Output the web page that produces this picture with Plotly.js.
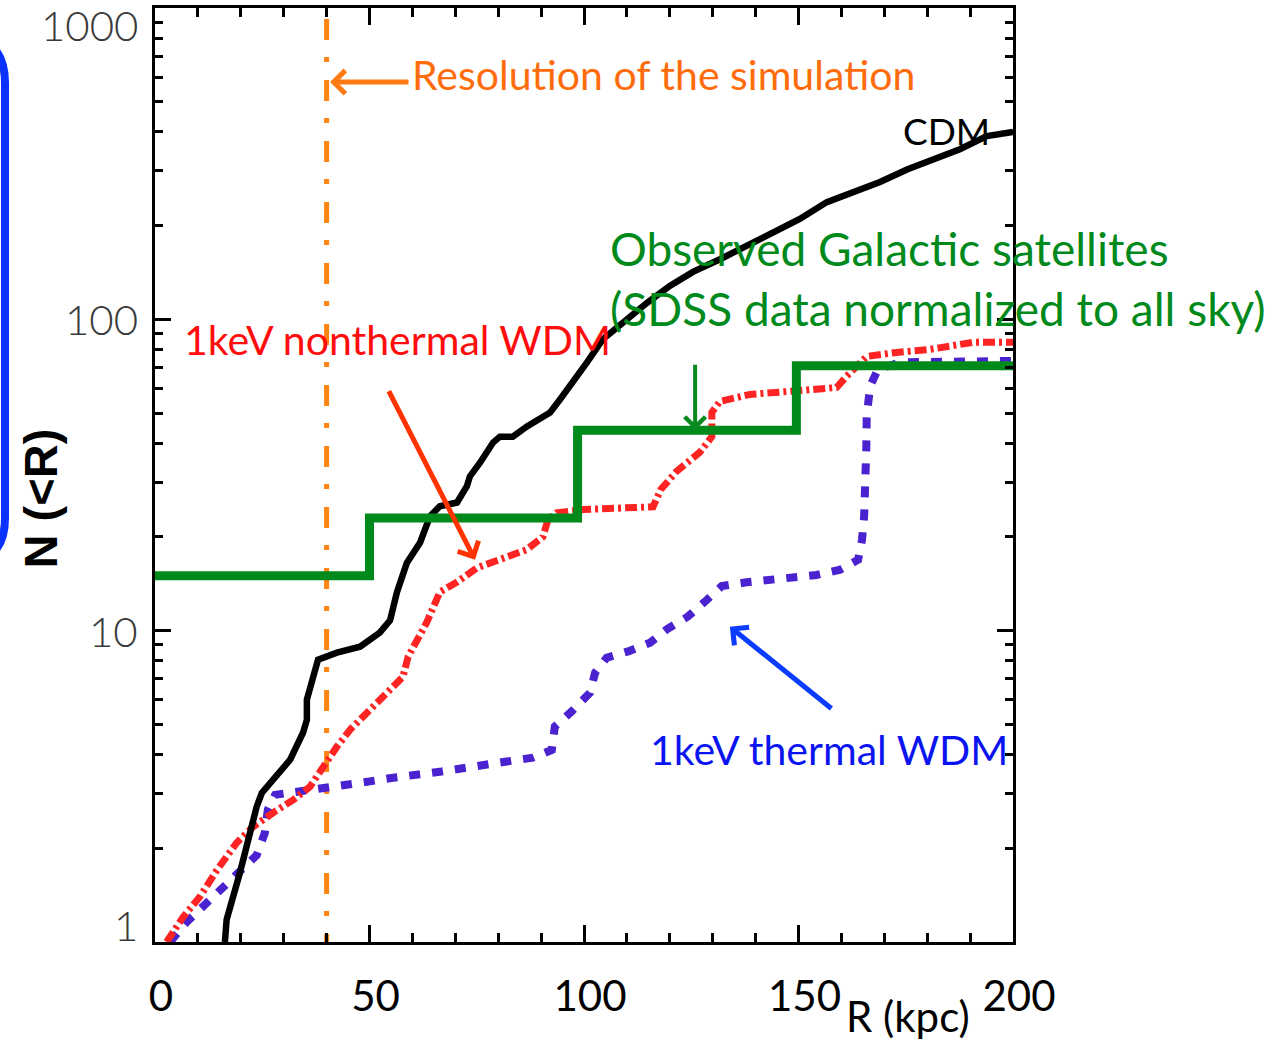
<!DOCTYPE html>
<html>
<head>
<meta charset="utf-8">
<script src="https://cdn.plot.ly/plotly-3.0.1.min.js"></script>
<style>
  html, body { margin: 0; padding: 0; background: #ffffff; }
  #chart { width: 1285px; height: 1045px; }
</style>
</head>
<body>
<div id="chart"></div>
<script>
// Cumulative number of satellites N(<R) against galactocentric radius R (kpc)

// CDM simulation
const rCDM = [16.3, 16.7, 19.8, 22.1, 23.7, 24.9, 27.5, 31.5, 34.5, 35.4, 35.4, 36.8, 38.0, 42.4, 47.8, 52.4, 54.8, 56.4, 58.7, 61.8, 64.1, 66.4, 70.4, 72.7, 73.4, 75.8, 78.8, 80.4, 83.4, 86.7, 92.1, 94.4, 97.4, 100.7, 104.4, 110.0, 114.7, 120.0, 125.4, 131.7, 138.0, 144.1, 150.3, 156.6, 162.7, 169.0, 175.3, 181.4, 187.6, 193.9, 198.6, 200];
const nCDM = [1.0, 1.18, 1.67, 2.24, 2.72, 3.01, 3.32, 3.85, 4.70, 5.17, 6.0, 6.96, 8.07, 8.50, 8.88, 9.86, 10.8, 13.3, 16.5, 19.2, 23.3, 25.1, 25.8, 29.1, 31.3, 34.7, 40.2, 42.0, 42.0, 45.3, 50.2, 55.3, 62.7, 72.7, 86.3, 100, 113, 128, 142, 156, 172, 191, 210, 238, 256, 276, 303, 327, 352, 388, 399, 400];

// 1 keV non-thermal WDM simulation
const rNonThermal = [2.7, 6.5, 10.5, 14.4, 19.0, 22.8, 27.5, 32.2, 36.1, 39.2, 42.4, 45.5, 49.3, 53.1, 57.8, 59.0, 61.0, 63.3, 66.4, 70.3, 75.0, 80.4, 86.6, 90.4, 91.6, 93.6, 99.8, 116.1, 117.9, 121.6, 127.0, 129.8, 129.8, 131.7, 138.7, 148.0, 158.9, 161.2, 165.9, 172.9, 180.7, 190.7, 200];
const nNonThermal = [1.0, 1.20, 1.40, 1.70, 2.08, 2.34, 2.60, 2.86, 3.15, 3.65, 4.24, 4.81, 5.45, 6.13, 7.11, 8.25, 9.35, 10.6, 13.3, 14.3, 15.9, 16.9, 18.2, 20.0, 22.7, 23.9, 24.5, 25.0, 28.4, 32.5, 37.4, 42.0, 50.2, 54.5, 57.4, 58.7, 60.4, 65.6, 76.0, 78.3, 80.1, 84.4, 84.4];

// 1 keV thermal WDM simulation
const rThermal = [3.5, 7.4, 11.7, 15.5, 19.3, 23.7, 25.6, 26.3, 28.0, 33.8, 39.2, 44.7, 50.1, 55.5, 61.0, 66.8, 82.0, 88.1, 92.5, 93.2, 97.1, 101.4, 102.6, 105.3, 110.3, 115.4, 119.3, 124.2, 128.2, 132.1, 137.9, 143.4, 148.7, 154.2, 159.7, 163.9, 164.8, 165.3, 165.8, 165.9, 166.7, 168.5, 173.7, 196.2, 200];
const nThermal = [1.0, 1.16, 1.32, 1.49, 1.68, 1.90, 2.24, 2.66, 2.97, 3.04, 3.13, 3.20, 3.28, 3.37, 3.44, 3.53, 3.80, 3.91, 4.14, 4.92, 5.50, 6.32, 7.33, 8.19, 8.58, 9.15, 10.1, 11.1, 12.4, 13.9, 14.3, 14.6, 14.8, 15.1, 15.7, 16.9, 19.6, 23.3, 38.2, 48.9, 61.0, 69.0, 72.8, 73.5, 73.5];

// Observed Milky Way satellites (SDSS, scaled to the full sky), binned steps
const rObserved = [0, 50, 98.5, 149.5, 200];
const nObserved = [15, 23, 44, 71, 71];

// Resolution limit of the simulation
const rResolution = 40;
const nResolutionSpan = [922, 1];

// Axis ticks
const xTickVals = [0, 50, 100, 150, 200];
const xTickText = ['0', '50', '100', '150', '200'];
const yTickVals = [1, 10, 100, 1000];
const yTickText = ['1', '10', '100', '1000'];

const lg = Math.log10;

const traces = [
  {
    x: [rResolution, rResolution], y: nResolutionSpan, mode: 'lines',
    line: { color: '#ff8412', width: 5, dash: '21px,17px,5px,18px' },
    hoverinfo: 'skip'
  },
  {
    x: rThermal, y: nThermal, mode: 'lines',
    line: { color: '#4a22cf', width: 8, dash: '11px,12px' }
  },
  {
    x: rNonThermal, y: nNonThermal, mode: 'lines',
    line: { color: '#ff2424', width: 7, dash: '12px,4px,3px,4px' }
  },
  {
    x: rCDM, y: nCDM, mode: 'lines',
    line: { color: '#000000', width: 6.5 }
  },
  {
    x: rObserved, y: nObserved, mode: 'lines',
    line: { color: '#008a1c', width: 9, shape: 'hv' }
  }
];

const textFont = 'Lato, "Open Sans", sans-serif';

const annotations = [
  // labels
  { x: 59.4, y: 2.785, xref: 'x', yref: 'y', text: 'Resolution of the simulation', showarrow: false,
    xanchor: 'left', yanchor: 'middle', font: { family: textFont, size: 41, color: '#ff6c0c' } },
  { x: 173.9, y: 2.608, xref: 'x', yref: 'y', text: 'CDM', showarrow: false,
    xanchor: 'left', yanchor: 'middle', font: { family: textFont, size: 37, color: '#000000' } },
  { x: 105.6, y: 2.228, xref: 'x', yref: 'y', text: 'Observed Galactic satellites', showarrow: false,
    xanchor: 'left', yanchor: 'middle', font: { family: textFont, size: 46, color: '#008a1c' } },
  { x: 105.6, y: 2.035, xref: 'x', yref: 'y', text: '(SDSS data normalized to all sky)', showarrow: false,
    xanchor: 'left', yanchor: 'middle', font: { family: textFont, size: 46, color: '#008a1c' } },
  { x: 6.3, y: 1.936, xref: 'x', yref: 'y', text: '1keV nonthermal WDM', showarrow: false,
    xanchor: 'left', yanchor: 'middle', font: { family: textFont, size: 41, color: '#ff0c0c' } },
  { x: 114.9, y: 0.617, xref: 'x', yref: 'y', text: '1keV thermal WDM', showarrow: false,
    xanchor: 'left', yanchor: 'middle', font: { family: textFont, size: 41, color: '#0a14f0' } },

  // pointer arrows
  { x: 40.8, y: lg(578), xref: 'x', yref: 'y', text: '', showarrow: true, ax: 80, ay: 0,
    arrowhead: 4, arrowsize: 0.9, arrowwidth: 5, arrowcolor: '#ff7a12' },
  { x: 125.9, y: lg(44), xref: 'x', yref: 'y', text: '', showarrow: true, ax: 0, ay: -67,
    arrowhead: 4, arrowsize: 1, arrowwidth: 4, arrowcolor: '#0a8a1e' },
  { x: 74.6, y: lg(16.9), xref: 'x', yref: 'y', text: '', showarrow: true, ax: -87, ay: -170,
    arrowhead: 4, arrowsize: 0.9, arrowwidth: 5, arrowcolor: '#ff3300' },
  { x: 134.0, y: lg(10.3), xref: 'x', yref: 'y', text: '', showarrow: true, ax: 103, ay: 83,
    arrowhead: 4, arrowsize: 0.9, arrowwidth: 5, arrowcolor: '#0a3cff' },

  // axis titles
  { x: -0.134, y: 0.475, xref: 'paper', yref: 'paper', text: '<b>N (&lt;R)</b>', showarrow: false,
    textangle: -90, xanchor: 'center', yanchor: 'middle',
    font: { family: '"Liberation Sans", Arial, sans-serif', size: 47, color: '#000000' } },
  { x: 0.8776, y: -0.0795, xref: 'paper', yref: 'paper', text: 'R (kpc)', showarrow: false,
    xanchor: 'center', yanchor: 'middle', font: { family: textFont, size: 42, color: '#000000' } }
];

// y tick labels, kept inside the page at the ends of the decade range
yTickVals.forEach(function (v, i) {
  const isTop = i === yTickVals.length - 1;
  const isBottom = i === 0;
  annotations.push({
    x: 0, y: lg(v), xref: 'paper', yref: 'y', text: yTickText[i], showarrow: false,
    xanchor: 'right', xshift: -15,
    yanchor: isTop ? 'top' : (isBottom ? 'bottom' : 'middle'),
    yshift: isTop ? 10 : (isBottom ? -10 : 0),
    font: { family: textFont, size: 42, color: '#3a3a3a', weight: 300 }
  });
});

// rounded frame edge at the left of the page
const px2x = function (p) { return (p - 155) / 858; };
const py2y = function (p) { return (942 - p) / 934; };
const framePath = 'M ' + px2x(-120) + ',' + py2y(36) +
  ' L ' + px2x(-42) + ',' + py2y(36) +
  ' Q ' + px2x(5) + ',' + py2y(36) + ' ' + px2x(5) + ',' + py2y(83) +
  ' L ' + px2x(5) + ',' + py2y(518) +
  ' Q ' + px2x(5) + ',' + py2y(563) + ' ' + px2x(-40) + ',' + py2y(563) +
  ' L ' + px2x(-120) + ',' + py2y(563);

const layout = {
  width: 1285, height: 1045,
  margin: { l: 155, r: 272, t: 8, b: 103, pad: 0 },
  paper_bgcolor: '#ffffff', plot_bgcolor: '#ffffff',
  showlegend: false,
  xaxis: {
    range: [0, 200], tickmode: 'array', tickvals: xTickVals, ticktext: xTickText,
    ticks: 'inside', ticklen: 17, tickwidth: 3, tickcolor: '#000000',
    showline: true, linewidth: 3, linecolor: '#000000', mirror: 'ticks',
    showgrid: false, zeroline: false,
    minor: { dtick: 10, tick0: 0, ticks: 'inside', ticklen: 9, tickwidth: 3, tickcolor: '#000000', showgrid: false },
    tickfont: { family: textFont, size: 42, color: '#000000' },
    ticklabelstandoff: 16, ticklabelshift: 6
  },
  yaxis: {
    type: 'log', range: [0, 3], tickmode: 'linear', tick0: 0, dtick: 1,
    ticks: 'inside', ticklen: 16, tickwidth: 3, tickcolor: '#000000',
    showline: true, linewidth: 3, linecolor: '#000000', mirror: 'ticks',
    showgrid: false, zeroline: false, showticklabels: false,
    minor: { dtick: 'D1', ticks: 'inside', ticklen: 8, tickwidth: 3, tickcolor: '#000000', showgrid: false }
  },
  shapes: [
    { type: 'path', xref: 'paper', yref: 'paper', path: framePath,
      line: { color: '#0a32ff', width: 8 }, fillcolor: 'rgba(0,0,0,0)' }
  ],
  annotations: annotations
};

Plotly.newPlot('chart', traces, layout, { displayModeBar: false, staticPlot: true });
</script>
</body>
</html>
